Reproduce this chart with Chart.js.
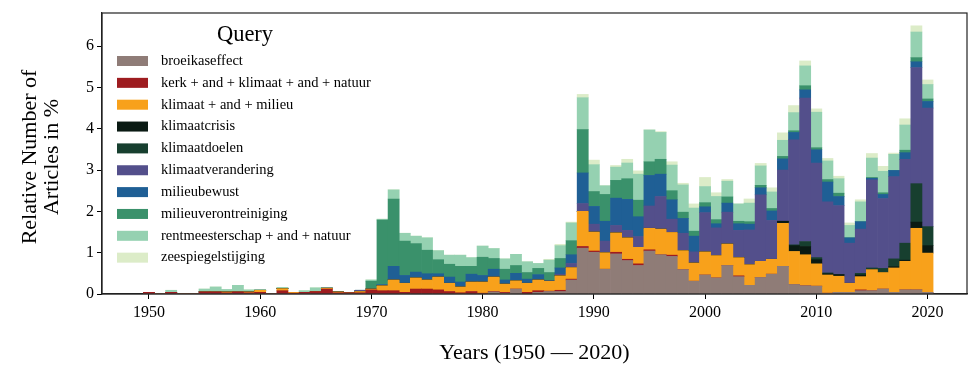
<!DOCTYPE html>
<html>
<head>
<meta charset="utf-8">
<script src="https://cdn.jsdelivr.net/npm/chart.js@4/dist/chart.umd.min.js"></script>
<style>
html,body{margin:0;padding:0;background:#fff;}
canvas{display:block;}
</style>
</head>
<body>
<canvas id="c" width="969" height="365"></canvas>
<script>
const years = [1950,1951,1952,1953,1954,1955,1956,1957,1958,1959,
1960,1961,1962,1963,1964,1965,1966,1967,1968,1969,
1970,1971,1972,1973,1974,1975,1976,1977,1978,1979,
1980,1981,1982,1983,1984,1985,1986,1987,1988,1989,
1990,1991,1992,1993,1994,1995,1996,1997,1998,1999,
2000,2001,2002,2003,2004,2005,2006,2007,2008,2009,
2010,2011,2012,2013,2014,2015,2016,2017,2018,2019,2020];

const broeikaseffect = [0,0,0,0,0,0,0,0,0,0,
0,0,0,0,0,0,0,0,0,0,
0,0,0,0,0,0,0,0,0,0,
0,0.05,0.02,0.12,0,0.04,0.06,0.06,0.34,1.11,
1.01,0.6,0.97,0.81,0.69,1.04,0.95,0.91,0.59,0.31,
0.46,0.39,0.69,0.42,0.21,0.4,0.48,0.67,0.23,0.2,
0.19,0.02,0.04,0.04,0.08,0.08,0.12,0.04,0.1,0.1,0.04];

const kerk = [0.04,0,0.04,0,0,0.05,0.05,0.03,0.05,0.03,
0.04,0,0.08,0.02,0.04,0.06,0.12,0.03,0.03,0.03,
0.1,0.08,0.08,0.04,0.12,0.12,0.1,0.06,0.03,0.06,
0.02,0.01,0.02,0,0.04,0.04,0.01,0.03,0.02,0.04,
0.03,0,0.04,0.03,0.04,0.03,0,0.03,0,0,
0,0,0,0.02,0,0,0,0,0,0,
0,0,0,0,0.02,0,0,0,0,0,0];

const klimaatMilieu = [0,0,0,0,0,0,0,0.02,0,0.02,
0.05,0,0.05,0.02,0,0,0.02,0.02,0,0.03,
0.02,0.12,0.26,0.22,0.27,0.22,0.31,0.2,0.14,0.23,
0.27,0.35,0.2,0.2,0.22,0.26,0.24,0.35,0.28,0.85,
0.46,0.4,0.47,0.52,0.4,0.52,0.62,0.55,0.46,0.44,
0.56,0.54,0.52,0.44,0.5,0.39,0.36,1.04,0.8,0.75,
0.54,0.44,0.39,0.22,0.32,0.51,0.4,0.59,0.69,1.49,0.95];

const klimaatcrisis = [0,0,0,0,0,0,0,0,0,0,
0,0,0,0,0,0,0,0,0,0,
0,0,0,0,0,0,0,0,0,0,
0,0,0,0,0,0,0,0,0,0,
0,0,0,0,0,0,0,0,0,0,
0,0,0,0,0,0,0,0.05,0.14,0.2,
0.1,0.03,0.04,0,0.04,0,0,0.03,0.03,0.15,0.18];

const klimaatdoelen = [0,0,0,0,0,0,0,0,0,0,
0,0,0,0,0,0,0,0,0,0,
0,0,0,0,0,0,0,0,0,0,
0,0,0,0,0,0,0,0,0,0,
0,0,0,0,0,0,0,0,0,0,
0,0,0,0,0,0,0,0,0.02,0.12,
0.05,0.02,0,0,0.04,0.04,0.1,0.19,0.41,0.93,0.46];

const klimaatverandering = [0,0,0,0,0,0,0,0,0,0,
0,0,0,0,0,0,0,0,0,0.03,
0,0,0,0,0,0,0,0,0,0,
0,0,0,0,0,0,0,0.04,0.1,0.19,
0.19,0.28,0.18,0.18,0.26,0.54,0.79,0.32,0.42,0.27,
0.95,0.67,0.77,0.66,0.84,1.61,0.94,1.24,2.54,3.47,
2.29,1.72,1.67,0.97,1.07,2.13,1.69,1.99,2.03,2.81,2.87];

const milieubewust = [0,0,0,0,0,0,0,0,0,0,
0,0,0,0,0,0,0,0,0,0,
0,0.03,0.33,0.19,0.14,0.15,0.08,0.15,0.12,0.19,
0.16,0.19,0.1,0.18,0.1,0.13,0.02,0.15,0.21,0.74,
0.43,0.48,0.66,0.75,0.48,0.74,0.54,0.47,0.36,0.38,
0.14,0.1,0.22,0.16,0.14,0.17,0.23,0.27,0.18,0.2,
0.32,0.48,0.22,0.13,0.18,0.04,0.1,0.15,0.16,0.14,0.16];

const milieuverontreiniging = [0,0,0,0,0,0,0,0,0,0,
0,0,0,0,0,0,0,0,0,0,
0.19,1.56,1.63,0.83,0.69,0.57,0.34,0.31,0.38,0.19,
0.44,0.26,0.26,0.19,0.16,0.15,0.19,0.23,0.34,1.05,
0.36,0.65,0.43,0.5,0.4,0.33,0.36,0.22,0.15,0.12,
0.1,0.1,0.15,0.06,0.06,0.06,0.06,0.06,0.04,0.1,
0.05,0.06,0.08,0,0,0.02,0.04,0,0.06,0.1,0.06];

const rentmeesterschap = [0,0,0.05,0,0,0.07,0.12,0.06,0.16,0.05,
0.02,0,0.03,0,0.04,0.09,0.02,0,0,0,
0.03,0.02,0.22,0.19,0.18,0.3,0.22,0.22,0.27,0.21,
0.27,0.24,0.25,0.27,0.26,0.12,0.3,0.31,0.43,0.77,
0.65,0.21,0.32,0.38,0.63,0.77,0.65,0.62,0.66,0.56,
0.39,0.56,0.38,0.42,0.45,0.47,0.4,0.39,0.44,0.48,
0.86,0.45,0.35,0.3,0.48,0.47,0.52,0.39,0.61,0.62,0.35];

const zeespiegelstijging = [0,0,0,0,0,0,0,0,0,0,
0,0,0,0,0,0,0,0,0,0,
0,0,0,0,0,0,0,0,0,0,
0,0,0,0,0,0,0.02,0.03,0.02,0.08,
0.11,0,0.04,0.09,0.08,0,0.02,0.08,0.04,0.1,
0.22,0.09,0.04,0,0.1,0.06,0.1,0.18,0.17,0.12,
0.08,0.06,0.06,0.06,0.05,0.11,0.12,0.03,0.15,0.15,0.11];

const seriesLabels = ["broeikaseffect","kerk + and + klimaat + and + natuur","klimaat + and + milieu","klimaatcrisis","klimaatdoelen","klimaatverandering","milieubewust","milieuverontreiniging","rentmeesterschap + and + natuur","zeespiegelstijging"];
const seriesValues = [broeikaseffect,kerk,klimaatMilieu,klimaatcrisis,klimaatdoelen,klimaatverandering,milieubewust,milieuverontreiniging,rentmeesterschap,zeespiegelstijging];
const seriesColors = ["#8f7c77","#9e1c20","#f8a11b","#0a1a13","#173f2f","#534f8b","#1f5f95","#3a916b","#95d1b1","#dcecc8"];
const yTicks = [0,1,2,3,4,5,6];
const xTicks = [1950,1960,1970,1980,1990,2000,2010,2020];

const FONT = "'Liberation Serif','DejaVu Serif',serif";

const datasets = seriesLabels.map((lab,i)=>({
  label: lab,
  data: years.map((y,j)=>({x:y, y:seriesValues[i][j]})),
  backgroundColor: seriesColors[i],
  borderWidth: 0,
  barPercentage: 1.0,
  categoryPercentage: 1.0,
  stack: 's'
}));

const decor = {
  id:'decor',
  afterDraw(chart){
    const ctx = chart.ctx, a = chart.chartArea;
    ctx.save();
    ctx.strokeStyle = '#222';
    ctx.lineWidth = 1.2;
    ctx.strokeRect(a.left, a.top, a.right-a.left, a.bottom-a.top);
    ctx.fillStyle = '#000';
    ctx.textBaseline = 'middle';
    ctx.textAlign = 'center';
    ctx.font = "22.5px " + FONT;
    ctx.fillText("Query", 245, 35);
    ctx.textAlign = 'left';
    ctx.font = "14.5px " + FONT;
    for (let i=0;i<seriesLabels.length;i++){
      const cy = 61 + i*21.85;
      ctx.fillStyle = seriesColors[i];
      ctx.fillRect(117, cy-5, 31, 10);
      ctx.fillStyle = '#000';
      ctx.fillText(seriesLabels[i], 161, cy);
    }
    ctx.font = "22px " + FONT;
    ctx.textAlign = 'center';
    ctx.fillText("Years (1950 \u2014 2020)", (a.left+a.right)/2, 353);
    ctx.translate(0, 157);
    ctx.rotate(-Math.PI/2);
    ctx.fillText("Relative Number of", 0, 30);
    ctx.fillText("Articles in %", 0, 52);
    ctx.restore();
  }
};

new Chart(document.getElementById('c'), {
  type:'bar',
  data:{datasets},
  plugins:[decor],
  options:{
    responsive:false,
    devicePixelRatio:1,
    animation:false,
    layout:{padding:{top:13,right:2,left:0,bottom:0}},
    plugins:{legend:{display:false}, tooltip:{enabled:false}},
    scales:{
      x:{
        type:'linear',
        stacked:true,
        offset:false,
        min:1945.78, max:2023.55,
        afterBuildTicks(s){ s.ticks = xTicks.map(v=>({value:v})); },
        afterFit(s){ s.height = 71; },
        ticks:{font:{family:FONT,size:16}, color:'#000', padding:4, autoSkip:false, maxRotation:0,
          callback:(v)=>String(v)},
        grid:{display:true, offset:false, drawOnChartArea:false, drawTicks:true, tickLength:5, color:'#000'},
        border:{display:true, color:'#222', width:1.2}
      },
      y:{
        stacked:true,
        min:0, max:6.8,
        afterBuildTicks(s){ s.ticks = yTicks.map(v=>({value:v})); },
        afterFit(s){ s.width = 102; },
        ticks:{font:{family:FONT,size:16}, color:'#000', padding:3},
        grid:{display:true, drawOnChartArea:false, drawTicks:true, tickLength:5, color:'#000'},
        border:{display:true, color:'#222', width:1.2}
      }
    }
  }
});
</script>
</body>
</html>
